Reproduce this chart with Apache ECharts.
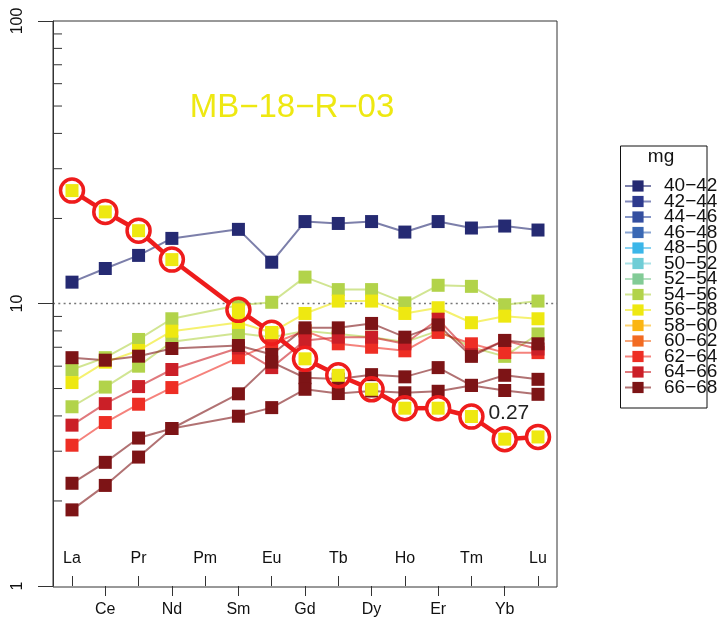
<!DOCTYPE html>
<html>
<head>
<meta charset="utf-8">
<script src="https://cdn.jsdelivr.net/npm/echarts@6/dist/echarts.min.js"></script>
<style>
  html, body { margin: 0; padding: 0; background: #fff; }
  #chart { width: 720px; height: 618px; }
</style>
</head>
<body>
<div id="chart"></div>
<script>
// REE elements along the x axis (Pm has no analysis)
const elements = ['La', 'Ce', 'Pr', 'Nd', 'Pm', 'Sm', 'Eu', 'Gd', 'Tb', 'Dy', 'Ho', 'Er', 'Tm', 'Yb', 'Lu'];

// mg classes shown in the legend and their colours
const mgGroups = ['40−42', '42−44', '44−46', '46−48', '48−50', '50−52', '52−54',
                  '54−56', '56−58', '58−60', '60−62', '62−64', '64−66', '66−68'];
const mgColors = ['#252A72', '#2E3A8E', '#344FA0', '#3A68B4', '#3BB6E9', '#6FCDD6', '#82CB96',
                  '#B2D34A', '#EEE811', '#FBB512', '#F26B22', '#EE2E24', '#CB1F27', '#7D1416'];

// y axis labelled values (log scale)
const yTicks = [1, 10, 100];

// chondrite-normalised samples, one array per sample
const sample4042 = [11.9, 13.3, 14.8, 17.0, null, 18.3, 14.0, 19.5, 19.2, 19.5, 17.9, 19.5, 18.5, 18.8, 18.2];
const sample5456a = [5.84, 6.43, 7.46, 8.83, null, 9.85, 10.1, 12.4, 11.2, 11.2, 10.05, 11.6, 11.5, 9.9, 10.2];
const sample5456b = [4.31, 5.06, 6.0, 7.32, null, 7.85, 7.6, 8.0, 7.8, 7.6, 7.3, 8.0, 7.0, 6.5, 7.8];
const sample5658 = [5.25, 6.2, 6.82, 7.98, null, 8.57, 7.9, 9.22, 10.2, 10.2, 9.22, 9.66, 8.55, 9.02, 8.83];
const sample6264 = [3.15, 3.79, 4.40, 5.04, null, 6.43, 7.2, 8.0, 7.2, 7.0, 6.8, 7.9, 7.2, 6.7, 6.7];
const sample6466 = [3.71, 4.42, 5.08, 5.84, null, 6.96, 5.93, 7.4, 7.6, 7.6, 7.2, 8.8, 6.6, 7.4, 6.9];
const sample6668a = [6.43, 6.3, 6.51, 6.93, null, 7.1, 6.6, 8.2, 8.2, 8.5, 7.6, 8.4, 6.5, 7.4, 7.2];
const sample6668b = [2.31, 2.74, 3.34, 3.61, null, 4.79, 6.2, 5.46, 5.4, 5.6, 5.5, 5.93, 5.13, 5.57, 5.39];
const sample6668c = [1.86, 2.27, 2.86, 3.61, null, 3.99, 4.28, 4.97, 4.8, 4.9, 4.83, 4.89, 5.13, 4.92, 4.77];

// highlighted sample
const highlightName = 'MB−18−R−03';
const highlightGroup = '56−58';
const highlightValues = [25.1, 21.1, 18.1, 14.3, null, 9.5, 7.88, 6.37, 5.57, 4.97, 4.26, 4.26, 3.98, 3.31, 3.37];
const highlightNote = '0.27';

// samples in drawing order with their mg class
const samples = [
  { group: '40−42', values: sample4042 },
  { group: '54−56', values: sample5456a },
  { group: '54−56', values: sample5456b },
  { group: '56−58', values: sample5658 },
  { group: '62−64', values: sample6264 },
  { group: '64−66', values: sample6466 },
  { group: '66−68', values: sample6668a },
  { group: '66−68', values: sample6668b },
  { group: '66−68', values: sample6668c }
];

const FONT = '"Liberation Sans", Arial, Helvetica, sans-serif';
const AXIS_COLOR = '#333';
const HL_RED = '#EE1C1C';
const RING_SIZE = 23;

function colorOf(group) { return mgColors[mgGroups.indexOf(group)]; }

const series = [];
// one line series per mg class so every class has a legend entry
mgGroups.forEach(function (g) {
  const members = samples.filter(function (s) { return s.group === g; });
  const c = colorOf(g);
  const base = {
    type: 'line', name: g, connectNulls: true, symbol: 'rect', symbolSize: 13,
    showSymbol: true, showAllSymbol: true, silent: true, animation: false,
    itemStyle: { color: c },
    lineStyle: { color: c, width: 2, opacity: 0.6 },
    emphasis: { disabled: true }
  };
  if (members.length === 0) {
    series.push(Object.assign({}, base, { data: [] }));
  } else {
    members.forEach(function (m) {
      series.push(Object.assign({}, base, { data: m.values }));
    });
  }
});

// highlighted sample: thick red segments that stop at the rings
const hlSegments = [];
let prevIdx = null;
highlightValues.forEach(function (v, i) {
  if (v == null) return;
  if (prevIdx !== null) hlSegments.push([prevIdx, highlightValues[prevIdx], i, v]);
  prevIdx = i;
});
series.push({
  type: 'custom', name: highlightName, data: hlSegments,
  encode: { x: [0, 2], y: [1, 3] }, silent: true, animation: false, z: 5,
  renderItem: function (params, api) {
    const a = api.coord([api.value(0), api.value(1)]);
    const b = api.coord([api.value(2), api.value(3)]);
    const dx = b[0] - a[0], dy = b[1] - a[1];
    const len = Math.sqrt(dx * dx + dy * dy);
    const r = RING_SIZE / 2;
    if (len <= 2 * r) return null;
    const ux = dx / len, uy = dy / len;
    return {
      type: 'line',
      shape: { x1: a[0] + ux * r, y1: a[1] + uy * r, x2: b[0] - ux * r, y2: b[1] - uy * r },
      style: { stroke: HL_RED, lineWidth: 4.5 }
    };
  }
});
// rings
series.push({
  type: 'line', name: highlightName + ' rings', data: highlightValues, connectNulls: true,
  symbol: 'circle', symbolSize: RING_SIZE, showSymbol: true, showAllSymbol: true,
  silent: true, animation: false, z: 5,
  itemStyle: { color: 'rgba(255,255,255,0)', borderColor: HL_RED, borderWidth: 3.5 },
  lineStyle: { width: 0, opacity: 0 },
  emphasis: { disabled: true }
});
// squares in the sample's mg colour
series.push({
  type: 'line', name: highlightName + ' points', data: highlightValues, connectNulls: true,
  symbol: 'rect', symbolSize: 13, showSymbol: true, showAllSymbol: true,
  silent: true, animation: false, z: 6,
  itemStyle: { color: colorOf(highlightGroup) },
  lineStyle: { width: 0, opacity: 0 },
  emphasis: { disabled: true }
});

function catAxis(showEven, inside) {
  const pick = function (i) { return (i % 2 === 0) === showEven; };
  return {
    type: 'category', data: elements, boundaryGap: false, position: 'bottom',
    axisLine: { show: false, onZero: false },
    axisTick: { show: true, inside: inside, length: 10, interval: pick,
                lineStyle: { color: AXIS_COLOR, width: 1 } },
    axisLabel: { show: true, inside: inside, interval: pick, margin: inside ? 19 : 16,
                 color: '#111', fontSize: 16, fontFamily: FONT },
    splitLine: { show: false }
  };
}

const chart = echarts.init(document.getElementById('chart'), null, { renderer: 'canvas' });

chart.setOption({
  animation: false,
  backgroundColor: '#fff',
  textStyle: { fontFamily: FONT },
  title: {
    text: highlightName, left: 287, top: 86, textAlign: 'center',
    textStyle: { color: '#EEE811', fontSize: 33, fontWeight: 'normal', fontFamily: FONT }
  },
  grid: { left: 72, right: 182, top: 21, bottom: 31, containLabel: false },
  xAxis: [catAxis(true, true), catAxis(false, false)],
  yAxis: {
    type: 'log', logBase: 10, min: 1, max: 100, position: 'left', offset: 19,
    axisLine: { show: true, lineStyle: { color: AXIS_COLOR, width: 1 } },
    axisTick: { show: true, inside: false, length: 15, lineStyle: { color: AXIS_COLOR } },
    axisLabel: {
      show: true, rotate: 90, margin: 27, color: '#111', fontSize: 16, fontFamily: FONT,
      showMinLabel: true, showMaxLabel: true,
      formatter: function (v) { return yTicks.indexOf(Math.round(v)) >= 0 ? String(Math.round(v)) : ''; }
    },
    splitLine: { show: false }
  },
  legend: {
    show: true, orient: 'vertical', left: 619, top: 171.5,
    data: mgGroups, itemWidth: 26, itemHeight: 14, itemGap: -3.5,
    selectedMode: false,
    textStyle: { fontSize: 19, color: '#111', fontFamily: FONT, padding: [0, 0, 0, 8] }
  },
  series: series
});

// plot frame, minor log ticks, reference line at 10 and legend frame
const frameL = 53, frameR = 557, frameT = 21, frameB = 587;
const graphics = [];
graphics.push({ type: 'rect', silent: true, z: 0,
  shape: { x: frameL, y: frameT, width: frameR - frameL, height: frameB - frameT },
  style: { fill: null, stroke: AXIS_COLOR, lineWidth: 1 } });
[2, 3, 4, 5, 6, 7, 8, 9, 20, 30, 40, 50, 60, 70, 80, 90].forEach(function (v) {
  const y = chart.convertToPixel({ yAxisIndex: 0 }, v);
  graphics.push({ type: 'line', silent: true,
    shape: { x1: frameL, y1: y, x2: frameL + 9, y2: y },
    style: { stroke: AXIS_COLOR, lineWidth: 1 } });
});
const y10 = chart.convertToPixel({ yAxisIndex: 0 }, 10);
graphics.push({ type: 'line', silent: true, z: 0,
  shape: { x1: frameL, y1: y10, x2: frameR, y2: y10 },
  style: { stroke: '#777', lineWidth: 1.3, lineDash: [2, 3.3] } });
// legend frame and title
graphics.push({ type: 'rect', silent: true,
  shape: { x: 620.5, y: 146, width: 86.5, height: 262 },
  style: { fill: null, stroke: '#111', lineWidth: 1 } });
graphics.push({ type: 'text', silent: true, x: 661, y: 157,
  style: { text: 'mg', fontSize: 19, fontFamily: FONT, fill: '#111', align: 'center', verticalAlign: 'middle' } });
// ratio note to the right of the Tm point of the highlighted sample
const notePos = chart.convertToPixel({ xAxisIndex: 0, yAxisIndex: 0 }, [12, highlightValues[12]]);
graphics.push({ type: 'text', silent: true, z: 10, x: notePos[0] + 17, y: notePos[1] - 3,
  style: { text: highlightNote, fontSize: 21, fontFamily: FONT, fill: '#222', align: 'left', verticalAlign: 'middle' } });

chart.setOption({ graphic: graphics });
</script>
</body>
</html>
